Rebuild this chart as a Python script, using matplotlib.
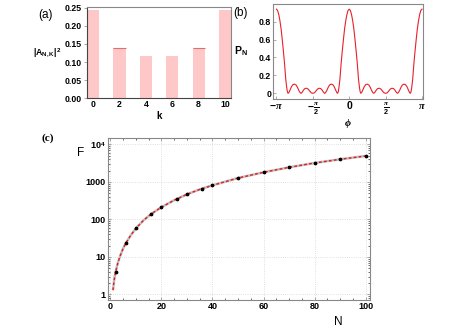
import numpy as np
import matplotlib
matplotlib.use("Agg")
from matplotlib import pyplot as plt
from matplotlib.ticker import FixedLocator, LogLocator, NullFormatter

# (a) bar chart data
k_vals = [0, 1, 2, 3, 4, 5, 6, 7, 8, 9, 10]
amp_sq = [0.245, 0.001, 0.138, 0.001, 0.117, 0.001, 0.117, 0.001, 0.138, 0.001, 0.245]

# (b) curve
phi = [-3.1416, -3.09, -3.04, -2.99, -2.94, -2.89, -2.84, -2.79, -2.74, -2.70, -2.67, -2.64,
       -2.60, -2.55, -2.49, -2.43, -2.36, -2.29, -2.23, -2.17, -2.12, -2.08, -2.03, -1.97,
       -1.91, -1.84, -1.77, -1.70, -1.64, -1.5708,
       -1.50, -1.44, -1.37, -1.30, -1.23, -1.17, -1.11, -1.06, -1.02, -0.97, -0.91, -0.85,
       -0.78, -0.71, -0.65, -0.59, -0.54, -0.50, -0.47, -0.44, -0.40, -0.35, -0.30, -0.25,
       -0.20, -0.15, -0.10, -0.05,
       0.0, 0.05, 0.10, 0.15, 0.20, 0.25, 0.30, 0.35, 0.40, 0.44, 0.47, 0.50, 0.54, 0.59,
       0.65, 0.71, 0.78, 0.85, 0.91, 0.97, 1.02, 1.06, 1.11, 1.17, 1.23, 1.30, 1.37, 1.44,
       1.50, 1.5708,
       1.64, 1.70, 1.77, 1.84, 1.91, 1.97, 2.03, 2.08, 2.12, 2.17, 2.23, 2.29, 2.36, 2.43,
       2.49, 2.55, 2.60, 2.64, 2.67, 2.70, 2.74, 2.79, 2.84, 2.89, 2.94, 2.99, 3.04, 3.09, 3.1416]
p_n = [0.94, 0.925, 0.88, 0.81, 0.72, 0.60, 0.47, 0.33, 0.16, 0.07, 0.02, 0.0,
       0.01, 0.04, 0.075, 0.097, 0.103, 0.092, 0.065, 0.03, 0.008, 0.0, 0.012, 0.037,
       0.053, 0.057, 0.047, 0.024, 0.006, 0.0,
       0.006, 0.024, 0.047, 0.057, 0.053, 0.037, 0.012, 0.0, 0.008, 0.03, 0.065, 0.092,
       0.103, 0.097, 0.075, 0.04, 0.01, 0.0, 0.02, 0.07, 0.16, 0.33, 0.47, 0.60,
       0.72, 0.81, 0.88, 0.925,
       0.94, 0.925, 0.88, 0.81, 0.72, 0.60, 0.47, 0.33, 0.16, 0.07, 0.02, 0.0, 0.01, 0.04,
       0.075, 0.097, 0.103, 0.092, 0.065, 0.03, 0.008, 0.0, 0.012, 0.037, 0.053, 0.057, 0.047, 0.024,
       0.006, 0.0,
       0.006, 0.024, 0.047, 0.057, 0.053, 0.037, 0.012, 0.0, 0.008, 0.03, 0.065, 0.092, 0.103, 0.097,
       0.075, 0.04, 0.01, 0.0, 0.02, 0.07, 0.16, 0.33, 0.47, 0.60, 0.72, 0.81, 0.88, 0.925, 0.94]

# (c) points and curve
n_pts = [2, 6, 10, 16, 20, 26, 30, 36, 40, 50, 60, 70, 80, 90, 100]
f_pts = [4, 23, 58, 140, 212, 352, 466, 662, 810, 1265, 1800, 2440, 3190, 4000, 4900]
n_line = [1, 1.5, 2, 3, 4, 5, 6, 8, 10, 13, 16, 20, 25, 30, 35, 40, 50, 60, 70, 80, 90, 100]
f_line = [1.3, 2.5, 3.9, 7.3, 11.5, 17, 23, 38, 58, 95, 140, 212, 325, 466, 630, 810,
          1265, 1800, 2440, 3190, 4000, 4900]

plt.rcParams['font.family'] = ['Liberation Sans', 'DejaVu Sans']
plt.rcParams['mathtext.fontset'] = 'custom'
plt.rcParams['mathtext.rm'] = 'Liberation Sans:bold'
plt.rcParams['mathtext.it'] = 'Liberation Serif:bold:italic'
plt.rcParams['mathtext.bf'] = 'Liberation Sans:bold'

fig = plt.figure(figsize=(4.63, 3.28), dpi=100)
frame_col = '#888888'

def style(ax, fs):
    for s in ax.spines.values():
        s.set_color(frame_col)
        s.set_linewidth(0.8)
    ax.tick_params(labelsize=fs, length=2, width=0.5, color=frame_col, pad=1.5)
    for t in ax.get_xticklabels() + ax.get_yticklabels():
        t.set_fontweight('bold')

# (a)
ax1 = fig.add_axes([0.188, 0.701, 0.311, 0.277])
ax1.bar(k_vals, amp_sq, width=0.92, color='#ffc8c8', edgecolor='none')
ax1.hlines([amp_sq[2], amp_sq[8]], [1.54, 7.54], [2.46, 8.46], color='#e07070', lw=0.8)
ax1.set_xlim(-0.46, 10.46)
ax1.set_ylim(0, 0.252)
ax1.set_xticks([0, 2, 4, 6, 8, 10])
ax1.set_yticks([0, 0.05, 0.10, 0.15, 0.20, 0.25])
ax1.set_yticklabels(['0.00', '0.05', '0.10', '0.15', '0.20', '0.25'])
style(ax1, 6.3)
ax1.spines['left'].set_color('#444444')
ax1.spines['bottom'].set_color('#444444')
ax1.tick_params(axis='x', length=0)
ax1.set_xlabel('k', fontsize=7, fontweight='bold', labelpad=1)
ax1.set_ylabel(r'|A$_{\mathregular{N,K}}$|$^{\mathregular{2}}$', fontsize=6.3,
               fontweight='bold', rotation=0, labelpad=13, va='center')
fig.text(0.083, 0.955, '(a)', fontsize=8.5, ha='left', va='center')

# (b)
ax2 = fig.add_axes([0.590, 0.698, 0.324, 0.290])
ax2.plot(phi, p_n, color='#e8202a', lw=0.8)
ax2.set_xlim(-np.pi - 0.14, np.pi + 0.05)
ax2.set_ylim(-0.064, 0.998)
ax2.set_xticks([-np.pi, -np.pi / 2, 0, np.pi / 2, np.pi])
ax2.set_xticklabels([r'$-\pi$', r'$-\frac{\pi}{2}$', '0', r'$\frac{\pi}{2}$', r'$\pi$'])
ax2.set_yticks([0, 0.2, 0.4, 0.6, 0.8])
ax2.set_yticklabels(['0', '0.2', '0.4', '0.6', '0.8'])
style(ax2, 6.3)
ax2.tick_params(direction='in')
ax2.tick_params(axis='x', labelsize=7.5)
ax2.set_xlabel(r'$\phi$', fontsize=7.5, labelpad=0)
ax2.set_ylabel(r'P$_{\mathregular{N}}$', fontsize=7.5, fontweight='bold', rotation=0,
               labelpad=13, va='center')
fig.text(0.503, 0.96, '(b)', fontsize=8.5, ha='left', va='center')

# (c)
ax3 = fig.add_axes([0.233, 0.085, 0.566, 0.494])
ax3.set_yscale('log')
ax3.plot(n_line, f_line, color='#c0c0c0', lw=1.8, solid_capstyle='butt')
ax3.plot(n_line, f_line, color='#e41a1c', lw=1.0, ls=(0, (2, 1.6)))
ax3.plot(n_pts, f_pts, 'o', color='black', ms=1.7)
ax3.set_xlim(-1, 101.7)
ax3.set_ylim(0.705, 1.47e4)
ax3.set_xticks([0, 20, 40, 60, 80, 100])
ax3.xaxis.set_minor_locator(FixedLocator(np.arange(0, 101, 5)))
ax3.set_yticks([1, 10, 100, 1000, 10000])
ax3.set_yticklabels(['1', '10', '100', '1000', r'10$^{\mathregular{4}}$'])
ax3.yaxis.set_minor_locator(LogLocator(base=10, subs=np.arange(2, 10)))
ax3.yaxis.set_minor_formatter(NullFormatter())
style(ax3, 6.5)
ax3.tick_params(which='both', direction='in', top=True, right=True)
ax3.tick_params(which='minor', length=1.2, width=0.4)
ax3.grid(True, which='major', color='#d5d5d5', ls=':', lw=0.6)
ax3.set_xlabel('N', fontsize=8.5)
ax3.xaxis.set_label_coords(0.88, -0.1)
ax3.set_ylabel('F', fontsize=8.5, rotation=0)
ax3.yaxis.set_label_coords(-0.105, 0.87)
fig.text(0.09, 0.58, '(c)', fontsize=8, family='Liberation Serif', fontweight='bold',
         ha='left', va='center')

fig.savefig('out.png', dpi=100)
